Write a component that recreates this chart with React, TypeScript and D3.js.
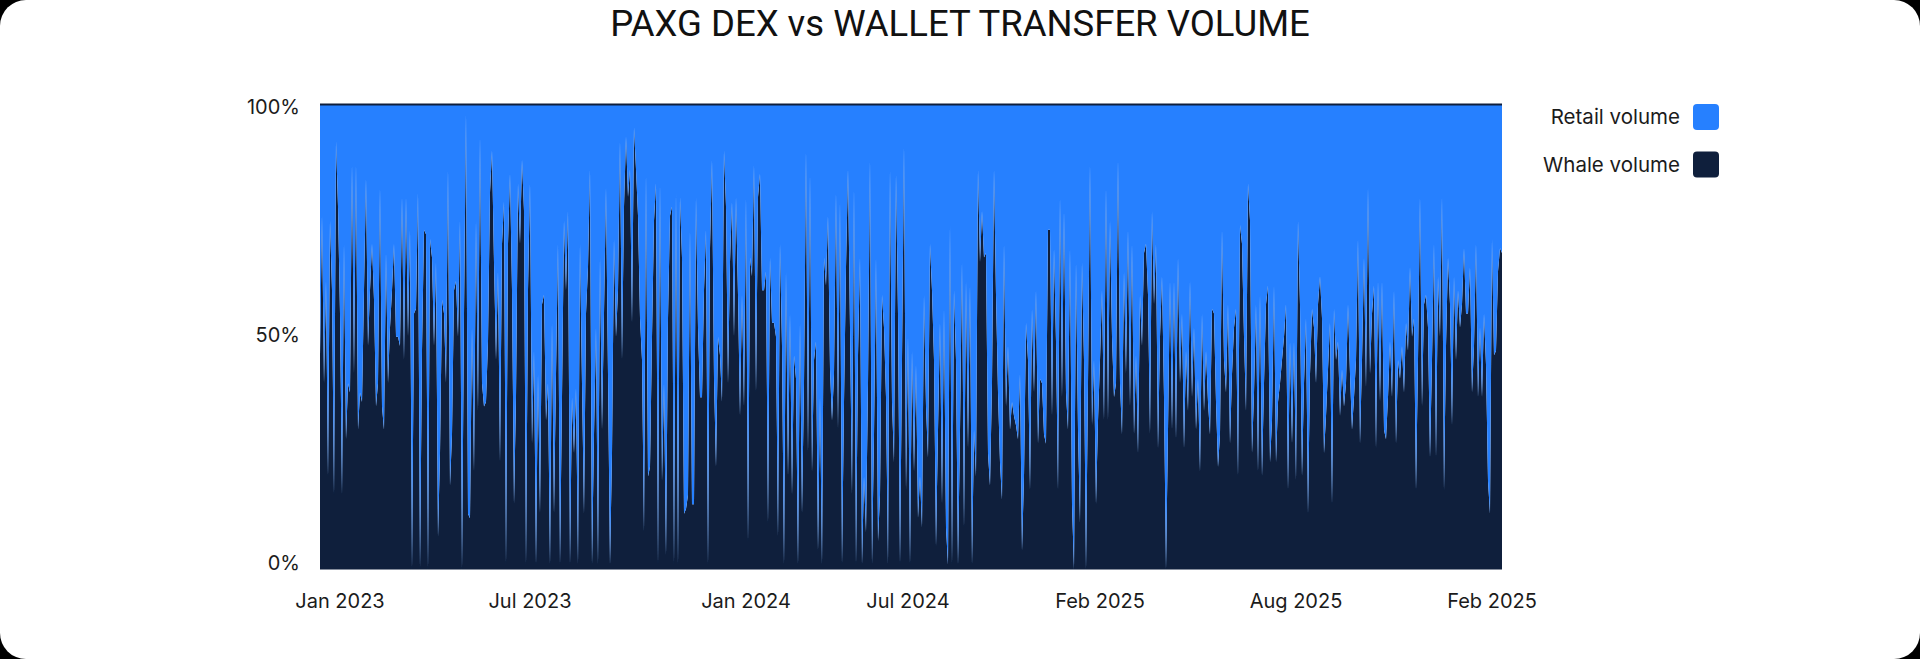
import React from 'react';
import * as d3 from 'd3';

// Whale share (%) of daily PAXG transfer volume; retail is the remainder.
const whaleShare: number[] = [
  46,76,40,62,20,75,60,16,92,78,
  55,16,70,28,40,38,87,42,87,30,
  38,36,60,84,48,60,70,58,35,40,
  82,35,30,68,40,52,60,70,50,50,
  48,80,45,80,50,73,0,55,56,81,
  0,47,73,72,0,71,67,48,66,7,
  25,58,55,40,86,18,29,60,62,50,
  75,0,55,98,12,
  11,52,21,75,34,93,40,35,36,49,
  81,90,66,45,64,23,70,79,1,70,
  85,60,14,37,83,70,88,77,1,60,
  83,27,47,1,42,12,57,59,32,40,
  1,53,12,42,70,1,37,75,60,77,
  1,37,25,39,1,70,40,12,55,65,
  86,1,29,52,1,67,30,55,82,42,
  1,25,
  71,50,60,92,45,78,93,80,86,53,
  95,86,76,54,45,8,85,20,22,50,
  75,83,1,83,19,40,3,54,76,78,
  1,81,1,80,67,12,13,16,73,14,
  14,80,52,37,37,60,73,1,69,88,
  41,22,50,46,36,90,78,40,66,79,
  50,80,59,33,59,35,80,6,67,63,
  87,38,80,
  85,60,60,64,10,67,53,53,50,7,
  70,48,1,64,20,55,16,46,41,1,
  53,12,40,90,25,85,21,45,49,4,
  37,1,67,61,76,43,32,42,81,30,
  79,1,36,65,86,52,16,82,1,46,
  67,1,20,8,40,88,1,29,67,6,
  16,59,52,37,1,86,36,23,85,55,
  1,45,91,
  17,50,1,47,21,44,11,20,9,59,
  35,24,70,60,45,5,30,53,14,56,
  9,1,74,1,60,45,1,30,66,9,
  62,26,61,1,30,20,86,66,77,67,
  68,25,18,40,86,59,38,23,15,70,
  35,48,30,36,33,31,28,42,4,20,
  53,45,17,56,38,60,27,41,40,29,
  27,73,
  73,33,69,49,17,80,37,77,38,30,
  69,14,0,66,30,10,66,45,0,40,
  87,31,45,14,32,45,60,32,82,32,
  75,50,37,40,88,40,29,64,42,73,
  35,70,29,46,25,59,48,68,70,59,
  29,77,57,70,26,50,63,37,0,30,
  62,30,62,28,67,40,55,26,47,34,
  62,37,52,
  30,41,21,55,34,47,36,29,56,55,
  36,22,29,73,45,38,57,27,42,52,
  56,20,74,70,50,34,83,75,25,38,
  57,21,59,20,40,57,61,23,32,61,
  23,36,40,45,50,57,17,49,27,49,
  19,75,57,20,40,54,12,42,56,52,
  40,57,63,54,25,33,43,53,14,56,
  45,49,
  33,43,35,40,57,42,30,37,45,71,
  27,45,67,39,82,42,55,61,26,62,
  36,62,30,28,37,49,37,60,27,45,
  41,48,38,53,47,65,50,54,17,45,
  80,35,57,59,52,24,45,70,24,63,
  50,80,17,48,67,57,31,63,45,60,
  52,57,69,55,55,65,38,48,70,37,
  52,37,55,44,19,12,71,46,47,64,
  69,68,
];

const xTickLabels = ['Jan 2023', 'Jul 2023', 'Jan 2024', 'Jul 2024', 'Feb 2025', 'Aug 2025', 'Feb 2025'];
const xTickIndex = [10, 105, 213, 294, 390, 488, 586];
const yTickValues = [0, 50, 100];
const legendNames = ['Retail volume', 'Whale volume'];
const seriesKeys = ['retail', 'whale'];
const seriesColors: Record<string, string> = { retail: '#2680ff', whale: '#0f1f3c' };

const W = 1920;
const H = 659;
const plot = { left: 320, right: 1502, top: 104, bottom: 569.5 };
const textColor = '#1b1b1b';
const uiFont = 'Inter, "Noto Sans", sans-serif';

export default function App() {
  const rows = whaleShare.map((w) => ({ whale: w, retail: 100 - w }));
  const stacked = d3
    .stack<{ whale: number; retail: number }>()
    .keys(['whale', 'retail'])
    .offset(d3.stackOffsetExpand)(rows);

  const x = d3.scaleLinear().domain([0, rows.length - 1]).range([plot.left, plot.right]);
  const y = d3.scaleLinear().domain([0, 1]).range([plot.bottom, plot.top]);
  const yLabel = d3.scaleLinear().domain([0, 100]).range([plot.bottom - 6.5, plot.top + 2.5]);

  const area = d3
    .area<d3.SeriesPoint<{ whale: number; retail: number }>>()
    .x((_, i) => x(i))
    .y0((d) => y(d[0]))
    .y1((d) => y(d[1]))
    .curve(d3.curveLinear);

  return (
    <svg
      width={W}
      height={H}
      viewBox={`0 0 ${W} ${H}`}
      style={{ position: 'fixed', left: 0, top: 0, display: 'block' }}
    >
      <rect x={0} y={0} width={W} height={H} fill="#000" />
      <rect x={0} y={0} width={W} height={H} rx={26} ry={26} fill="#fff" />

      <text
        x={W / 2}
        y={35.5}
        textAnchor="middle"
        fontFamily='Roboto, "Noto Sans", sans-serif'
        fontSize={36.5}
        fill="#111"
      >
        PAXG DEX vs WALLET TRANSFER VOLUME
      </text>

      {stacked.map((s) => (
        <path key={s.key} d={area(s) || ''} fill={seriesColors[s.key]} />
      ))}

      <line x1={plot.left} x2={plot.right} y1={y(1) + 0.5} y2={y(1) + 0.5} stroke={seriesColors.whale} strokeWidth={2} />

      {yTickValues.map((v) => (
        <text
          key={v}
          x={plot.left - 20}
          y={yLabel(v)}
          dy="0.35em"
          textAnchor="end"
          fontFamily={uiFont}
          fontSize={20}
          fill={textColor}
        >
          {v}%
        </text>
      ))}

      {xTickIndex.map((idx, k) => (
        <text
          key={k}
          x={x(idx)}
          y={608}
          textAnchor="middle"
          fontFamily={uiFont}
          fontSize={20}
          fill={textColor}
        >
          {xTickLabels[k]}
        </text>
      ))}

      {legendNames.map((name, k) => (
        <g key={name} transform={`translate(0, ${k * 47.5})`}>
          <text x={1680} y={124} textAnchor="end" fontFamily={uiFont} fontSize={20.5} fill={textColor}>
            {name}
          </text>
          <rect x={1693} y={104} width={26} height={26} rx={4} fill={seriesColors[seriesKeys[k]]} />
        </g>
      ))}
    </svg>
  );
}
